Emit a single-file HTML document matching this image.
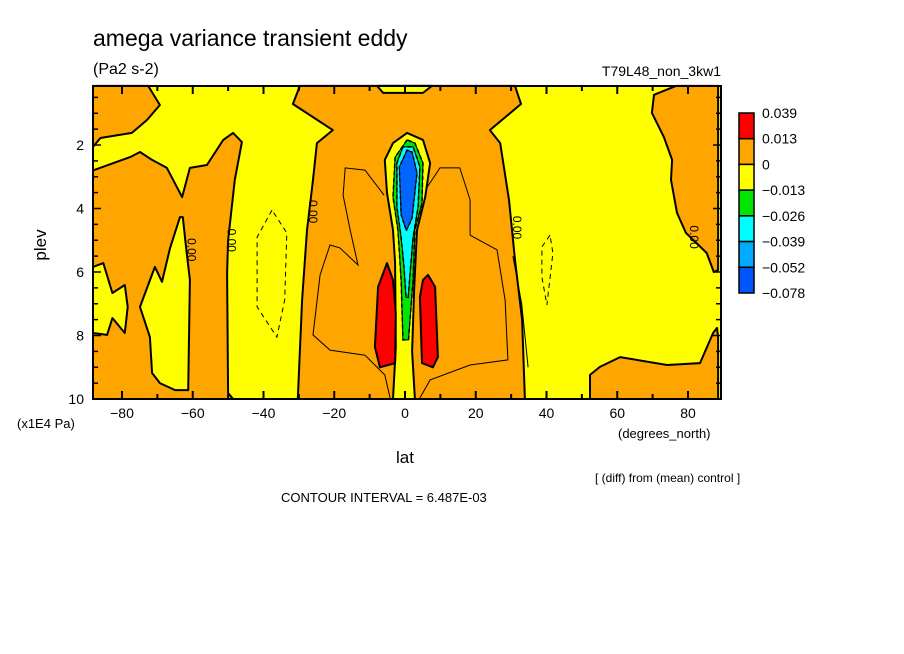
<!DOCTYPE html>
<html><head><meta charset="utf-8"><style>
body{margin:0;background:#fff;width:904px;height:654px;overflow:hidden}
svg{display:block;font-family:"Liberation Sans",sans-serif}
</style></head><body>
<svg id="c" width="904" height="654">
<text x="93" y="46" font-size="23">amega variance transient eddy</text>
<text x="93" y="74" font-size="16">(Pa2 s-2)</text>
<text x="721" y="76" font-size="14" text-anchor="end">T79L48_non_3kw1</text>
<text x="0" y="0" font-size="17" transform="translate(46,245) rotate(-90)" text-anchor="middle">plev</text>
<text x="17" y="428" font-size="13">(x1E4 Pa)</text>
<text x="618" y="438" font-size="13">(degrees_north)</text>
<text x="405" y="463" font-size="17" text-anchor="middle">lat</text>
<text x="595" y="482" font-size="12">[ (diff) from (mean) control ]</text>
<text x="281" y="502" font-size="13">CONTOUR INTERVAL = 6.487E-03</text>
<g id="plot"></g><g id="legend"></g>
</svg>
<script>
const xTicks=[-80,-60,-40,-20,0,20,40,60,80];
const yTicks=[2,4,6,8,10];
const legendLabels=["0.039","0.013","0","\u22120.013","\u22120.026","\u22120.039","\u22120.052","\u22120.078"];
const legendColors=["#ff0000","#ffa500","#ffff00","#00e600","#00ffff","#00aaff","#0055ff"];
const orangeTopLeft=[[-88.2,0.14],[-72.6,0.14],[-69.3,0.74],[-72.9,1.21],[-77.2,1.62],[-86.1,1.78],[-88.2,2.06]];
const orangeLeft=[[-88.2,2.8],[-77.7,2.38],[-74.9,2.22],[-71.5,2.47],[-67.3,2.72],[-63,3.64],[-60.8,2.72],[-56,2.63],[-51.4,1.84],[-48.6,1.62],[-46.1,1.91],[-48.1,3.1],[-50.0,5.0],[-50.3,6.03],[-50.0,9.81],[-48.6,10.0],[-88.2,10.0]];
const yellowIsland1=[[-88.2,5.84],[-85.3,5.72],[-82.7,6.66],[-79.2,6.41],[-78.4,7.1],[-79.2,7.92],[-82.7,7.45],[-84.2,7.98],[-88.2,7.92]];
const yellowIsland2=[[-74.9,7.1],[-70.7,5.84],[-68.7,6.31],[-66.4,5.24],[-63.6,4.27],[-62.8,4.27],[-61.7,5.4],[-60.8,6.25],[-61.3,9.72],[-65,9.72],[-69.3,9.5],[-71.5,9.18],[-72.1,8.05]];
const orangeCenter=[[-29.7,0.14],[-31.7,0.71],[-20.4,1.53],[-24.9,1.94],[-26.0,3.1],[-27.7,4.68],[-29.1,6.88],[-30.3,10.0],[33.9,10.0],[33.1,7.5],[31.1,5.62],[29.4,3.73],[26.9,1.94],[24.0,1.53],[32.8,0.71],[31.1,0.14]];
const yellowCap=[[-7.9,0.14],[-6.2,0.36],[5.1,0.36],[7.6,0.14]];
const yellowPlume=[[0.6,1.62],[-3.4,1.94],[-5.7,2.47],[-5.1,3.51],[-3.4,4.68],[-2.8,5.72],[-2.6,8.36],[-3.4,10.0],[2.8,10.0],[2.0,8.5],[2.6,6.5],[3.4,4.68],[5.7,3.64],[7.1,2.57],[5.1,1.84]];
const greenRegion=[[0.6,1.84],[-2.8,2.38],[-3.4,3.64],[-2.0,4.68],[-1.1,6.25],[-0.6,8.14],[1.0,8.14],[2.3,6.25],[2.8,4.68],[4.8,3.83],[5.1,2.57],[2.8,1.94]];
const cyanRegion=[[-0.6,2.06],[-2.3,2.57],[-2.3,3.95],[-1.1,4.9],[-0.3,5.8],[0.3,6.8],[0.9,6.8],[1.6,5.8],[2.3,4.9],[3.7,3.95],[4.2,2.69],[2.3,2.06]];
const blueRegion=[[0.6,2.16],[-1.6,2.69],[-1.1,4.2],[0.4,4.7],[2.0,4.3],[3.4,2.88],[2.0,2.22]];
const redLeft=[[-5.1,5.72],[-7.6,6.47],[-8.5,8.36],[-7.1,9.0],[-2.8,8.87],[-2.6,7.29],[-3.4,6.25]];
const redRight=[[6.5,6.09],[8.5,6.47],[9.3,8.68],[7.9,9.0],[4.8,8.87],[4.2,6.79],[5.1,6.25]];
const orangeRightTop=[[88.5,0.14],[76.6,0.14],[70.4,0.42],[69.8,0.99],[73.2,1.75],[75.5,2.47],[75.2,3.1],[76.9,4.14],[79.4,4.77],[85.3,5.4],[87.3,6.0],[88.5,5.94]];
const orangeRightBottom=[[52.3,10.0],[52.3,9.24],[55.1,8.99],[60.8,8.68],[74.1,8.93],[83.4,8.87],[87.1,7.92],[88.2,7.76],[88.5,8.05],[88.5,10.0]];
const dashLeft=[[-37.6,4.05],[-41.8,4.9],[-41.8,7.1],[-36.2,8.05],[-34.0,6.88],[-33.4,4.77]];
const dashRight=[[41.0,4.84],[38.7,5.21],[38.7,6.16],[40.1,7.04],[41.8,5.4]];
const thinLeft=[[-5.9,3.58],[-11.3,2.79],[-16.9,2.72],[-17.5,3.58],[-15.5,4.68],[-13.3,5.78],[-18.4,5.24],[-21.2,5.15],[-24.0,6.09],[-26.0,7.98],[-21.2,8.46],[-11.3,8.62],[-5.7,9.24],[-4.2,9.97]];
const thinRight=[[5.7,3.42],[9.9,2.72],[15.5,2.72],[18.4,3.73],[18.4,4.84],[26.0,5.3],[28.3,6.88],[29.1,8.77],[18.4,8.93],[7.1,9.4],[4.2,9.97]];
const thinRight2=[[30.5,5.5],[33.0,7.0],[34.8,9.0]];
const zeroLabels=[[-61.5,5.3],[-50.2,5.0],[-27.2,4.1],[30.5,4.6],[80.5,4.9]];

const X0=93,X1=721,Y0=86,Y1=399;
function xs(lat){return 405+lat*3.5375;}
function ys(p){return 81.5+p*31.75;}
const NS="http://www.w3.org/2000/svg";
const plot=document.getElementById('plot');
function mk(tag,attrs,parent){const e=document.createElementNS(NS,tag);for(const k in attrs)e.setAttribute(k,attrs[k]);(parent||plot).appendChild(e);return e;}
function pts(arr){return arr.map(d=>xs(d[0]).toFixed(1)+','+ys(d[1]).toFixed(1)).join(' ');}
let e=mk('rect',{x:X0,y:Y0,width:X1-X0,height:Y1-Y0,fill:'#ffff00'});


function region(arr,fill,name,sw){const el=mk('polygon',{points:pts(arr),fill:fill,stroke:'#000','stroke-width':sw==null?2:sw,'stroke-linejoin':'round'});

return el;}
region(orangeTopLeft,'#ffa500','orange-region-topleft');
region(orangeLeft,'#ffa500','orange-region-left');
region(yellowIsland1,'#ffff00','yellow-island-1');
region(yellowIsland2,'#ffff00','yellow-island-2');
region(orangeCenter,'#ffa500','orange-region-center');
region(yellowCap,'#ffff00','yellow-cap');
region(orangeRightTop,'#ffa500','orange-region-right-top');
region(orangeRightBottom,'#ffa500','orange-region-right-bottom');
function line(arr,name,dash,closed,sw){const el=mk(closed?'polygon':'polyline',{points:pts(arr),fill:'none',stroke:'#000','stroke-width':sw||1,'stroke-dasharray':dash||'none'});

}
line(thinLeft,'contour-line-left',null,false);
line(thinRight,'contour-line-right',null,false);
line(thinRight2,'contour-line-right-2',null,false);
region(yellowPlume,'#ffff00','yellow-plume');
region(greenRegion,'#00e600','green-region',1);
line(greenRegion,'dashed-contour-green','4,3',true,1.5);
region(cyanRegion,'#00ffff','cyan-region',1);
region(blueRegion,'#0066ff','blue-region',1);
line(cyanRegion,'dashed-contour-center','4,3',true,1.5);
line(blueRegion,'dashed-contour-blue','3,3',true,1.5);
region(redLeft,'#ff0000','red-region-left');
region(redRight,'#ff0000','red-region-right');
line(dashLeft,'dashed-contour-left','5,4',true);
line(dashRight,'dashed-contour-right','5,4',true);
zeroLabels.forEach(d=>{const t=mk('text',{x:0,y:0,'font-size':12,'text-anchor':'middle',transform:'translate('+xs(d[0])+','+ys(d[1])+') rotate(90)'});t.textContent='0.00';

});
e=mk('rect',{x:X0,y:Y0,width:X1-X0,height:Y1-Y0,fill:'none',stroke:'#000','stroke-width':2});


for(let lat=-80;lat<=80;lat+=10){const x=xs(lat);const L=lat%20===0?8:5;
mk('line',{x1:x,y1:Y1,x2:x,y2:Y1-L,stroke:'#000','stroke-width':2});
mk('line',{x1:x,y1:Y0,x2:x,y2:Y0+L,stroke:'#000','stroke-width':2});}
for(let p=0.5;p<10;p+=0.5){const y=ys(p);const L=p%2===0?8:5;
mk('line',{x1:X0,y1:y,x2:X0+L,y2:y,stroke:'#000','stroke-width':1.5});
mk('line',{x1:X1,y1:y,x2:X1-L,y2:y,stroke:'#000','stroke-width':1.5});}
xTicks.forEach(v=>{const t=mk('text',{x:xs(v),y:418,'font-size':14,'text-anchor':'middle'});t.textContent=v<0?'\u2212'+(-v):String(v);

});
yTicks.forEach(v=>{const t=mk('text',{x:84,y:ys(v)+5,'font-size':14,'text-anchor':'end'});t.textContent=String(v);

});
const lg=document.getElementById('legend');
const cellH=(293-113)/legendColors.length;
legendColors.forEach((c,i)=>{const r=mk('rect',{x:739,y:113+i*cellH,width:15,height:cellH,fill:c,stroke:'#000','stroke-width':1.5},lg);

});
legendLabels.forEach((s,i)=>{const t=mk('text',{x:762,y:113+i*cellH+5,'font-size':14},lg);t.textContent=s;

});
</script>
</body></html>
